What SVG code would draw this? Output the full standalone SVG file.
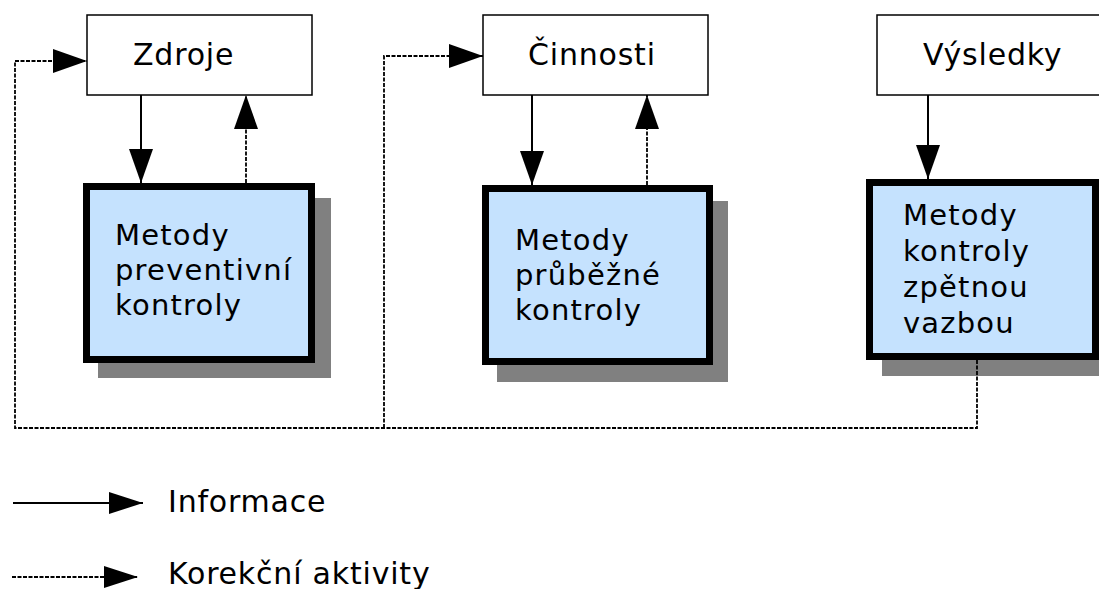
<svg xmlns="http://www.w3.org/2000/svg" width="1099" height="589" viewBox="0 0 1099 589">
<defs>
<marker id="ah" viewBox="0 0 34 24" markerWidth="34" markerHeight="24" refX="34" refY="12" markerUnits="userSpaceOnUse" orient="auto">
<path d="M0,0 L34,12 L0,24 Z" fill="#000"/>
</marker>
<marker id="ahs" viewBox="0 0 34 22" markerWidth="34" markerHeight="22" refX="34" refY="11" markerUnits="userSpaceOnUse" orient="auto">
<path d="M0,0 L34,11 L0,22 Z" fill="#000"/>
</marker>
</defs>
<style>
text{font-family:"DejaVu Sans","Liberation Sans",sans-serif;fill:#000}
.lbl{font-size:30px;letter-spacing:0.8px}
.btx{font-size:29px;letter-spacing:1.2px}
.lg{font-size:30px;letter-spacing:0.8px}
.top{fill:#fff;stroke:#000;stroke-width:1.5}
.box{fill:#c5e2fe;stroke:#000;stroke-width:7}
.sh{fill:#808080}
.info{fill:none;stroke:#000;stroke-width:2}
.corr{fill:none;stroke:#000;stroke-width:1.8;stroke-dasharray:4 1.5}
</style>
<rect width="1099" height="589" fill="#fff"/>

<g id="zdroje">
<rect class="top" x="87" y="15" width="225" height="80"/>
<text class="lbl" x="133" y="65">Zdroje</text>
</g>
<g id="cinnosti">
<rect class="top" x="483" y="15" width="225" height="80"/>
<text class="lbl" x="528" y="65">Činnosti</text>
</g>
<g id="vysledky">
<rect class="top" x="877" y="15" width="225" height="80"/>
<text class="lbl" x="923" y="65">Výsledky</text>
</g>

<g id="preventivni">
<rect class="sh" x="98" y="198" width="233" height="180"/>
<rect class="box" x="86.5" y="186.5" width="225" height="173"/>
<text class="btx" x="115" y="245">Metody</text>
<text class="btx" x="115" y="280">preventivní</text>
<text class="btx" x="115" y="315">kontroly</text>
</g>
<g id="prubezne">
<rect class="sh" x="497" y="201" width="231" height="181"/>
<rect class="box" x="485.5" y="188.5" width="224" height="173"/>
<text class="btx" x="515" y="250">Metody</text>
<text class="btx" x="515" y="285">průběžné</text>
<text class="btx" x="515" y="320">kontroly</text>
</g>
<g id="zpetna">
<rect class="sh" x="882" y="195" width="230" height="181"/>
<rect class="box" x="869.5" y="182.5" width="226" height="174"/>
<text class="btx" x="903" y="225">Metody</text>
<text class="btx" x="903" y="261">kontroly</text>
<text class="btx" x="903" y="297">zpětnou</text>
<text class="btx" x="903" y="333">vazbou</text>
</g>

<g id="connectors">
<line class="info" x1="141" y1="95" x2="141" y2="183" marker-end="url(#ah)"/>
<line class="corr" x1="246" y1="183" x2="246" y2="95" marker-end="url(#ah)"/>
<line class="info" x1="532" y1="95" x2="532" y2="185" marker-end="url(#ah)"/>
<line class="corr" x1="647" y1="185" x2="647" y2="95" marker-end="url(#ah)"/>
<line class="info" x1="928" y1="95" x2="928" y2="179" marker-end="url(#ah)"/>
<polyline class="corr" points="977,360 977,428 15,428 15,61 87,61" marker-end="url(#ah)"/>
<polyline class="corr" points="384,428 384,56 483,56" marker-end="url(#ah)"/>
</g>

<g id="legend">
<line class="info" x1="13" y1="503" x2="143" y2="503" marker-end="url(#ahs)"/>
<text class="lg" x="168" y="512">Informace</text>
<line class="corr" x1="12" y1="577" x2="138" y2="577" marker-end="url(#ahs)"/>
<text class="lg" x="168" y="584">Korekční aktivity</text>
</g>
</svg>
